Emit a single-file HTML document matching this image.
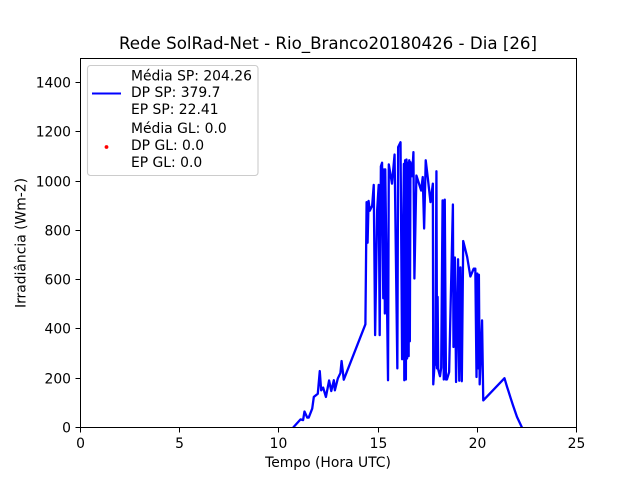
<!DOCTYPE html>
<html lang="pt">
<head>
<meta charset="utf-8">
<title>Rede SolRad-Net - Rio_Branco20180426 - Dia [26]</title>
<style>
html,body{margin:0;padding:0;background:#fff;}
svg{display:block;font-family:"DejaVu Sans","Liberation Sans",sans-serif;}
</style>
</head>
<body>
<svg id="chart" xmlns="http://www.w3.org/2000/svg" width="640" height="480" viewBox="0 0 640 480">
  <rect x="0" y="0" width="640" height="480" fill="#fff"/>
  <text x="328" y="49" font-size="16.67" text-anchor="middle" fill="#000">Rede SolRad-Net - Rio_Branco20180426 - Dia [26]</text>
  <g id="plot"></g>
  <g id="axes"></g>
  <text x="328" y="467" font-size="13.89" text-anchor="middle" fill="#000">Tempo (Hora UTC)</text>
  <text transform="translate(25.5,243) rotate(-90)" font-size="13.89" text-anchor="middle" fill="#000">Irradiância (Wm-2)</text>
  <g>
    <rect x="87.5" y="65.5" width="170.5" height="110" rx="3" ry="3" fill="#fff" fill-opacity="0.8" stroke="#ccc" stroke-width="1.1"/>
    <line x1="92" y1="93.5" x2="121" y2="93.5" stroke="#0000ff" stroke-width="2.1"/>
    <circle cx="106.5" cy="147" r="1.9" fill="#ff0000"/>
    <g font-size="13.89" fill="#000">
      <text x="131" y="80.5">Média SP: 204.26</text>
      <text x="131" y="97">DP SP: 379.7</text>
      <text x="131" y="114">EP SP: 22.41</text>
      <text x="131" y="133">Média GL: 0.0</text>
      <text x="131" y="150">DP GL: 0.0</text>
      <text x="131" y="167">EP GL: 0.0</text>
    </g>
  </g>
</svg>
<script>
const xTickLabels = [0, 5, 10, 15, 20, 25];
const yTickLabels = [0, 200, 400, 600, 800, 1000, 1200, 1400];
const hours = [10.72, 11.09, 11.22, 11.29, 11.43, 11.5, 11.68, 11.76, 11.96, 12.06, 12.13, 12.23, 12.37, 12.53, 12.64, 12.77, 12.82, 12.97, 13.1, 13.16, 13.27, 14.36,
  14.42, 14.47, 14.52, 14.58, 14.7, 14.78, 14.85, 14.95, 15.03, 15.08, 15.14, 15.2, 15.26, 15.3, 15.34, 15.36, 15.5, 15.54, 15.7, 15.83, 15.97, 16.01, 16.13, 16.21, 16.27, 16.3, 16.32, 16.36, 16.4, 16.43, 16.46, 16.5, 16.54, 16.57, 16.6, 16.63, 16.72, 16.78, 16.83, 16.93, 17.17, 17.25, 17.32, 17.4, 17.5, 17.64, 17.76, 17.78, 17.84, 17.89, 17.94, 17.97, 18.0, 18.03, 18.12, 18.18, 18.25, 18.31, 18.36, 18.42, 18.47, 18.58, 18.77, 18.8, 18.87, 18.93, 19.03, 19.09, 19.15, 19.22, 19.29, 19.49, 19.65, 19.82, 19.9, 19.96, 20.0, 20.05, 20.08, 20.12, 20.24, 20.3, 21.37, 21.5, 21.58, 21.67, 21.8, 22.0, 22.25];
const irradiance = [0, 33, 30, 65, 40, 40, 77, 124, 137, 229, 151, 162, 124, 191, 148, 192, 151, 199, 221, 270, 194, 419,
  915, 750, 920, 880, 900, 985, 375, 880, 985, 375, 1060, 1075, 525, 1048, 463, 1048, 192, 1068, 990, 1108, 240, 1138, 1158, 277, 840, 1070, 192, 1085, 195, 1088, 280, 1075, 290, 1085, 350, 1077, 1020, 1118, 605, 1023, 962, 1017, 808, 1085, 1017, 915, 990, 175, 250, 260, 1040, 240, 530, 236, 208, 243, 922, 195, 925, 195, 195, 225, 905, 327, 690, 185, 683, 190, 650, 188, 757, 692, 613, 645, 645, 205, 625, 240, 620, 175, 435, 110, 200, 165, 145, 122, 90, 43, 0];

const axisLeft = 80.5, axisRight = 576.5, axisTop = 58, axisBottom = 427.5;
const xMax = 25, yMax = 1500;
const NS = 'http://www.w3.org/2000/svg';
function xScale(v) { return axisLeft + (v / xMax) * (axisRight - axisLeft); }
function yScale(v) { return axisBottom - (v / yMax) * (axisBottom - axisTop); }
function snap(p) { return Math.floor(p) + 0.5; }

const plot = document.getElementById('plot');
const axes = document.getElementById('axes');

const series = document.createElementNS(NS, 'polyline');


series.setAttribute('points', hours.map((h, i) => xScale(h).toFixed(2) + ',' + yScale(irradiance[i]).toFixed(2)).join(' '));
series.setAttribute('fill', 'none');
series.setAttribute('stroke', '#0000ff');
series.setAttribute('stroke-width', '2.3');
series.setAttribute('stroke-linejoin', 'round');
plot.appendChild(series);

const frame = document.createElementNS(NS, 'rect');


frame.setAttribute('x', axisLeft);
frame.setAttribute('y', snap(axisTop));
frame.setAttribute('width', axisRight - axisLeft);
frame.setAttribute('height', axisBottom - snap(axisTop));
frame.setAttribute('fill', 'none');
frame.setAttribute('stroke', '#000');
frame.setAttribute('stroke-width', '1');
axes.appendChild(frame);

xTickLabels.forEach(function (v) {
  const x = snap(xScale(v));
  const tick = document.createElementNS(NS, 'line');
  
  
  tick.setAttribute('x1', x);
  tick.setAttribute('x2', x);
  tick.setAttribute('y1', axisBottom);
  tick.setAttribute('y2', axisBottom + 5);
  tick.setAttribute('stroke', '#000');
  tick.setAttribute('stroke-width', '1');
  axes.appendChild(tick);
  const label = document.createElementNS(NS, 'text');
  
  
  label.setAttribute('x', x);
  label.setAttribute('y', 448);
  label.setAttribute('font-size', '13.89');
  label.setAttribute('text-anchor', 'middle');
  label.textContent = String(v);
  axes.appendChild(label);
});

yTickLabels.forEach(function (v) {
  const y = snap(yScale(v));
  const tick = document.createElementNS(NS, 'line');
  
  
  tick.setAttribute('x1', axisLeft - 5);
  tick.setAttribute('x2', axisLeft);
  tick.setAttribute('y1', y);
  tick.setAttribute('y2', y);
  tick.setAttribute('stroke', '#000');
  tick.setAttribute('stroke-width', '1');
  axes.appendChild(tick);
  const label = document.createElementNS(NS, 'text');
  
  
  label.setAttribute('x', 71);
  label.setAttribute('y', y + 5);
  label.setAttribute('font-size', '13.89');
  label.setAttribute('text-anchor', 'end');
  label.textContent = String(v);
  axes.appendChild(label);
});
</script>
</body>
</html>
